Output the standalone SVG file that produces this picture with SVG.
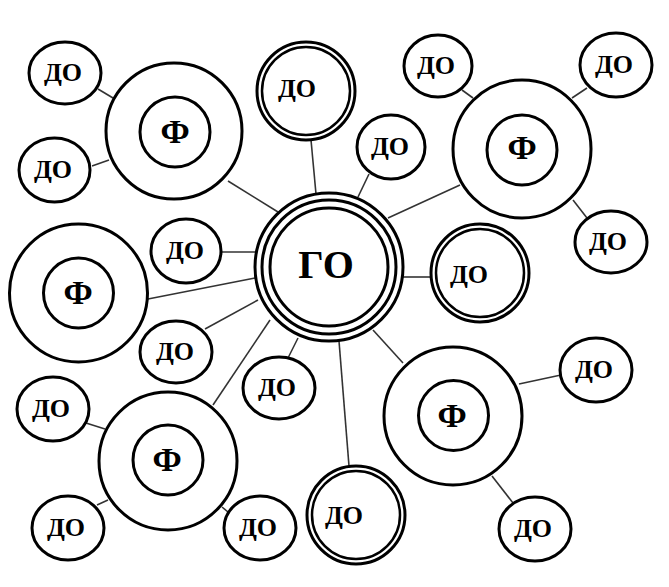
<svg xmlns="http://www.w3.org/2000/svg" width="669" height="587" viewBox="0 0 669 587">
<style>
.c{fill:#fff;stroke:#000;stroke-width:3}
.c2{fill:none;stroke:#000;stroke-width:2.5}
.ln{stroke:#333;stroke-width:1.6;fill:none}
.t{font-family:"Liberation Serif","Times New Roman",serif;font-weight:bold;text-anchor:middle;fill:#000}
.d{font-size:26px}
.f{font-size:34px}
.g{font-size:40px}
</style>
<rect width="669" height="587" fill="#fff"/>
<g id="connectors" class="ln">
<line x1="228" y1="181" x2="278" y2="212"/>
<line x1="98" y1="89" x2="113" y2="98"/>
<line x1="92" y1="166" x2="109" y2="160"/>
<line x1="311" y1="140" x2="316" y2="194"/>
<line x1="369" y1="174" x2="358" y2="197"/>
<line x1="388" y1="218" x2="460" y2="185"/>
<line x1="462" y1="90" x2="473" y2="98"/>
<line x1="587" y1="88" x2="572" y2="98"/>
<line x1="573" y1="200" x2="587" y2="218"/>
<line x1="222" y1="252" x2="256" y2="252"/>
<line x1="148" y1="299" x2="255" y2="278"/>
<line x1="205" y1="329" x2="258" y2="300"/>
<line x1="213" y1="405" x2="270" y2="320"/>
<line x1="86" y1="423" x2="105" y2="429"/>
<line x1="97" y1="505" x2="108" y2="500"/>
<line x1="222" y1="507" x2="228" y2="512"/>
<line x1="298" y1="338" x2="288" y2="358"/>
<line x1="339" y1="341" x2="349" y2="466"/>
<line x1="373" y1="330" x2="403" y2="363"/>
<line x1="519" y1="384" x2="561" y2="375"/>
<line x1="492" y1="476" x2="513" y2="503"/>
<line x1="402" y1="277" x2="430" y2="277"/>
</g>
<g id="GO">
<circle class="c" cx="329" cy="267" r="74"/>
<circle class="c" cx="329" cy="267" r="67"/>
<circle class="c" cx="329" cy="267" r="59"/>
<text class="t g" x="326" y="278">ГО</text>
</g>
<g id="F1">
<circle class="c" cx="174" cy="131" r="68"/>
<circle class="c" cx="175" cy="132" r="35"/>
<text class="t f" x="175" y="143">Ф</text>
</g>
<g id="F2">
<circle class="c" cx="522" cy="149" r="69"/>
<circle class="c" cx="522" cy="150" r="35"/>
<text class="t f" x="522" y="159">Ф</text>
</g>
<g id="F3">
<circle class="c" cx="78.5" cy="293" r="69"/>
<circle class="c" cx="78.5" cy="293" r="35"/>
<text class="t f" x="78" y="304">Ф</text>
</g>
<g id="F4">
<circle class="c" cx="168" cy="461" r="69"/>
<circle class="c" cx="168" cy="460" r="35"/>
<text class="t f" x="167" y="471">Ф</text>
</g>
<g id="F5">
<circle class="c" cx="453" cy="416" r="69"/>
<circle class="c" cx="453.5" cy="415.5" r="35"/>
<text class="t f" x="452" y="427">Ф</text>
</g>
<g id="DD1">
<circle class="c" cx="306" cy="91" r="49"/>
<circle class="c2" cx="306" cy="91" r="44"/>
<text class="t d" x="297" y="97">ДО</text>
</g>
<g id="DD2">
<circle class="c" cx="480" cy="273" r="49"/>
<circle class="c2" cx="480" cy="273" r="44"/>
<text class="t d" x="469" y="283">ДО</text>
</g>
<g id="DD3">
<circle class="c" cx="356" cy="515" r="49"/>
<circle class="c2" cx="356" cy="515" r="44"/>
<text class="t d" x="344" y="524">ДО</text>
</g>
<g id="D1"><ellipse class="c" cx="65" cy="73" rx="36" ry="31"/><text class="t d" x="63" y="81">ДО</text></g>
<g id="D2"><ellipse class="c" cx="54.5" cy="170" rx="35.5" ry="32"/><text class="t d" x="53" y="178">ДО</text></g>
<g id="D3"><ellipse class="c" cx="438" cy="66" rx="34" ry="31"/><text class="t d" x="436" y="74">ДО</text></g>
<g id="D4"><ellipse class="c" cx="616" cy="65" rx="36" ry="32"/><text class="t d" x="614" y="73">ДО</text></g>
<g id="D5"><ellipse class="c" cx="611" cy="242" rx="36" ry="31"/><text class="t d" x="608" y="250">ДО</text></g>
<g id="D6"><ellipse class="c" cx="391" cy="147" rx="34" ry="32"/><text class="t d" x="390" y="155">ДО</text></g>
<g id="D7"><ellipse class="c" cx="186" cy="251" rx="35" ry="32"/><text class="t d" x="185" y="259">ДО</text></g>
<g id="D8"><ellipse class="c" cx="176" cy="352" rx="36" ry="31"/><text class="t d" x="175" y="360">ДО</text></g>
<g id="D9"><ellipse class="c" cx="279" cy="388" rx="36" ry="31"/><text class="t d" x="277" y="396">ДО</text></g>
<g id="D10"><ellipse class="c" cx="53" cy="409" rx="36" ry="32"/><text class="t d" x="51" y="417">ДО</text></g>
<g id="D11"><ellipse class="c" cx="68" cy="528" rx="36" ry="32"/><text class="t d" x="66" y="536">ДО</text></g>
<g id="D12"><ellipse class="c" cx="260" cy="528" rx="36" ry="32"/><text class="t d" x="258" y="536">ДО</text></g>
<g id="D13"><ellipse class="c" cx="596" cy="370" rx="36" ry="32"/><text class="t d" x="594" y="378">ДО</text></g>
<g id="D14"><ellipse class="c" cx="535" cy="529" rx="36" ry="32"/><text class="t d" x="533" y="537">ДО</text></g>
</svg>
